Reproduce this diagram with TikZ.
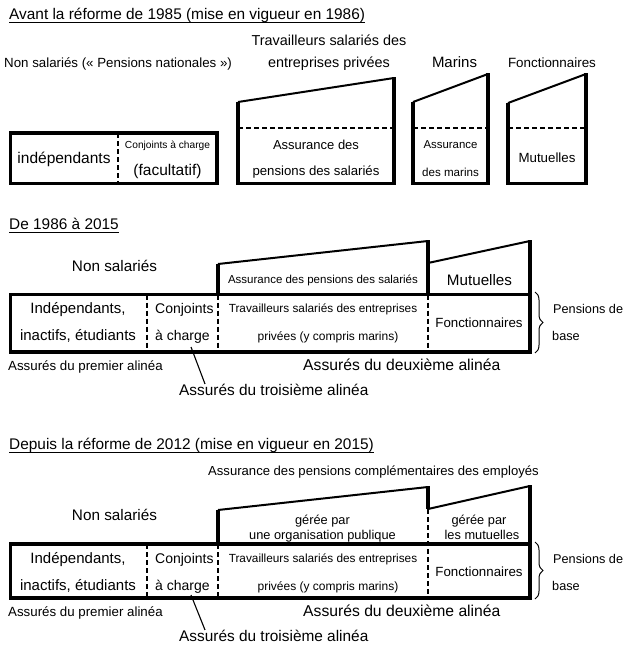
\documentclass[tikz,border=0pt]{standalone}
\usepackage{fontspec}
\setmainfont{Liberation Sans}
\usetikzlibrary{decorations.pathreplacing}

\begin{document}
\begin{tikzpicture}[x=1pt,y=-1pt,
    txt/.style={inner sep=0pt,anchor=base},
    lft/.style={inner sep=0pt,anchor=base west},
    sz/.style={font=\fontsize{#1}{#1}\selectfont},
    ttl/.style={lft,sz=15.4},
    uline/.style={line width=1.3pt},
    frame/.style={line width=3.6pt},
    roof/.style={line width=2pt},
    dsh/.style={line width=2.2pt,dash pattern=on 5pt off 3pt},
    brc/.style={decorate,decoration={brace,amplitude=8pt},line width=1pt},
    lead/.style={line width=1.1pt}]
  \useasboundingbox (0,0) rectangle (627,645);

  % avant 1985
  \node[ttl] (t1) at (9,19.5) {Avant la réforme de 1985 (mise en vigueur en 1986)};
  \draw[uline] ([yshift=-2.8pt]t1.base west) -- ([yshift=-2.8pt]t1.base east);
  \node[lft,sz=13.3] (ns1) at (4,67.5) {Non salariés (« Pensions nationales »)};
  \node[txt,sz=14.4] (ts1) at (329,45) {Travailleurs salariés des};
  \node[txt,sz=14.4] (ep1) at (329,67) {entreprises privées};
  \node[txt,sz=15] (mar1) at (454.5,67) {Marins};
  \node[txt,sz=13.4] (fon1) at (552,67) {Fonctionnaires};

  \draw[frame] (10.5,133) rectangle (217,183.5);
  \draw[dsh] (118,133) -- (118,183.5);
  \node[txt,sz=15.5] (ind1) at (64,163) {indépendants};
  \node[txt,sz=10.2] (cj1) at (167.5,148.5) {Conjoints à charge};
  \node[txt,sz=15.5] (fac1) at (167.5,175) {(facultatif)};

  \draw[frame] (238,102) |- (394,183.5) -- (394,77);
  \draw[roof] (238,102) -- (394,78);
  \draw[dsh] (238,128) -- (394,128);
  \node[txt,sz=13] (as1) at (316,149) {Assurance des};
  \node[txt,sz=13.2] (ps1) at (316,175) {pensions des salariés};

  \draw[frame] (413,102) |- (488,183.5) -- (488,73);
  \draw[roof] (413,102) -- (488,74);
  \draw[dsh] (413,128) -- (488,128);
  \node[txt,sz=11.4] (am1) at (450.5,148) {Assurance};
  \node[txt,sz=11.6] (dm1) at (450.5,176) {des marins};

  \draw[frame] (508,103) |- (586,183.5) -- (586,73);
  \draw[roof] (508,103) -- (586,74);
  \draw[dsh] (508,128) -- (586,128);
  \node[txt,sz=13.3] (mu1) at (547,162) {Mutuelles};

  % 1986 - 2015
  \node[ttl] (t2) at (9,229.5) {De 1986 à 2015};
  \draw[uline] ([yshift=-2.8pt]t2.base west) -- ([yshift=-2.8pt]t2.base east);
  \node[txt,sz=15.3] (ns2) at (114.5,271.5) {Non salariés};

  \draw[frame] (218,294) -- (218,264);
  \draw[roof] (218,264) -- (428,241);
  \draw[frame] (428,294) -- (428,240);
  \draw[roof] (428,263) -- (530,241);
  \draw[frame] (530,294) -- (530,240);
  \node[txt,sz=11.5] (ap2) at (323,283.5) {Assurance des pensions des salariés};
  \node[txt,sz=15.2] (mu2) at (479.5,285) {Mutuelles};

  \draw[frame] (10.5,294.5) rectangle (530,352);
  \draw[dsh] (147,294.5) -- (147,352);
  \draw[dsh] (218,294.5) -- (218,352);
  \draw[dsh] (428,294.5) -- (428,352);
  \node[txt,sz=15] (ind2) at (78,313.3) {Indépendants,};
  \node[txt,sz=15] (ina2) at (78,340) {inactifs, étudiants};
  \node[lft,sz=14] (cj2) at (155,313) {Conjoints};
  \node[lft,sz=14] (ch2) at (155,340) {à charge};
  \node[txt,sz=11.8] (tr2) at (323,312) {Travailleurs salariés des entreprises};
  \node[txt,sz=12] (pr2) at (328,340) {privées (y compris marins)};
  \node[txt,sz=13.3] (fo2) at (479,327) {Fonctionnaires};

  \draw[brc] (535,292) -- (535,353);
  \node[lft,sz=12.7] (pb2) at (553,313) {Pensions de};
  \node[lft,sz=12.7] (ba2) at (552,340) {base};

  \node[lft,sz=13.3] (a1b) at (8,370) {Assurés du premier alinéa};
  \node[lft,sz=15.7] (a2b) at (303,370.7) {Assurés du deuxième alinéa};
  \node[lft,sz=15.4] (a3b) at (179,395.5) {Assurés du troisième alinéa};
  \coordinate (cb) at (191,347);
  \draw[lead] (cb) -- ([xshift=26pt]a3b.north west);

  % depuis 2012
  \node[ttl] (t3) at (9,449.5) {Depuis la réforme de 2012 (mise en vigueur en 2015)};
  \draw[uline] ([yshift=-2.8pt]t3.base west) -- ([yshift=-2.8pt]t3.base east);
  \node[lft,sz=13.1] (apc) at (208,475) {Assurance des pensions complémentaires des employés};
  \node[txt,sz=15.3] (ns3) at (114.5,520) {Non salariés};

  \draw[frame] (218,544) -- (218,510);
  \draw[roof] (218,510) -- (428,487);
  \draw[frame] (428,509) -- (428,486);
  \draw[roof] (428,509) -- (530,486);
  \draw[frame] (530,544) -- (530,485);
  \node[txt,sz=12.8] (gp3) at (322.5,524.5) {gérée par};
  \node[txt,sz=12.8] (op3) at (322.5,539) {une organisation publique};
  \node[txt,sz=12.8] (gm3) at (479,524.5) {gérée par};
  \node[txt,sz=12.8] (lm3) at (482,539) {les mutuelles};

  \draw[frame] (10.5,544) rectangle (530,598);
  \draw[dsh] (147,544) -- (147,598);
  \draw[dsh] (218,544) -- (218,598);
  \draw[dsh] (428,509) -- (428,598);
  \node[txt,sz=15] (ind3) at (78,563.3) {Indépendants,};
  \node[txt,sz=15] (ina3) at (78,590) {inactifs, étudiants};
  \node[lft,sz=14] (cj3) at (155,563) {Conjoints};
  \node[lft,sz=14] (ch3) at (155,590) {à charge};
  \node[txt,sz=11.8] (tr3) at (323,562) {Travailleurs salariés des entreprises};
  \node[txt,sz=12] (pr3) at (328,590) {privées (y compris marins)};
  \node[txt,sz=13.3] (fo3) at (479,576.7) {Fonctionnaires};

  \draw[brc] (535,542) -- (535,599);
  \node[lft,sz=12.7] (pb3) at (553,563) {Pensions de};
  \node[lft,sz=12.7] (ba3) at (552,590) {base};

  \node[lft,sz=13.3] (a1c) at (8,616.7) {Assurés du premier alinéa};
  \node[lft,sz=15.7] (a2c) at (303,616.7) {Assurés du deuxième alinéa};
  \node[lft,sz=15.4] (a3c) at (179,641.5) {Assurés du troisième alinéa};
  \coordinate (cc) at (191,595);
  \draw[lead] (cc) -- ([xshift=26pt]a3c.north west);
\end{tikzpicture}
\end{document}
